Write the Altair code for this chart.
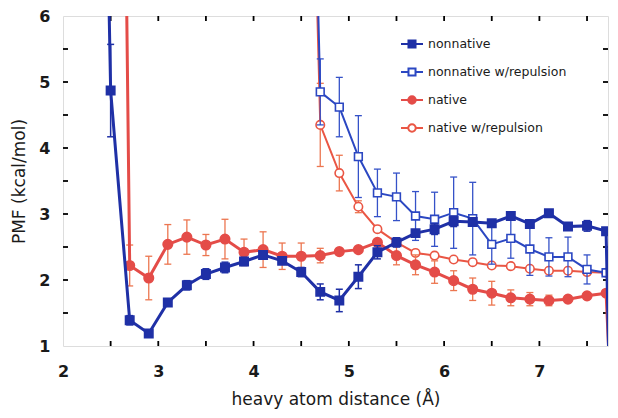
import altair as alt
import pandas as pd

# ---------------- data ----------------
series_names = ["nonnative", "nonnative w/repulsion", "native", "native w/repulsion"]

nn_x = [2.3, 2.5, 2.7, 2.9, 3.1, 3.3, 3.5, 3.7, 3.9, 4.1, 4.3, 4.5, 4.7, 4.9, 5.1,
        5.3, 5.5, 5.7, 5.9, 6.1, 6.3, 6.5, 6.7, 6.9, 7.1, 7.3, 7.5, 7.7, 7.9]
nn_y = [20.0, 4.87, 1.39, 1.19, 1.66, 1.92, 2.09, 2.19, 2.28, 2.38, 2.29, 2.12, 1.82, 1.69, 2.05,
        2.42, 2.57, 2.71, 2.77, 2.89, 2.88, 2.86, 2.97, 2.85, 3.01, 2.81, 2.82, 2.74, -11.0]
nn_err = [None, 0.70, 0.07, 0.04, 0.04, 0.07, 0.08, 0.08, 0.06, 0.05, 0.05, 0.07, 0.12, 0.17, 0.18,
          0.10, 0.07, 0.05, 0.08, 0.08, 0.06, 0.05, 0.04, 0.04, 0.04, 0.04, 0.08, 0.05, None]

nr_x = [4.5, 4.7, 4.9, 5.1, 5.3, 5.5, 5.7, 5.9, 6.1, 6.3, 6.5, 6.7, 6.9, 7.1, 7.3, 7.5, 7.7]
nr_y = [16.4, 4.85, 4.62, 3.87, 3.32, 3.26, 2.97, 2.92, 3.02, 2.93, 2.54, 2.63, 2.47, 2.35, 2.35, 2.16, 2.11]
nr_err = [None, 0.50, 0.45, 0.62, 0.36, 0.36, 0.37, 0.41, 0.54, 0.55, 0.30, 0.30, 0.40, 0.29, 0.30, 0.22, 0.03]

na_x = [2.5, 2.7, 2.9, 3.1, 3.3, 3.5, 3.7, 3.9, 4.1, 4.3, 4.5, 4.7, 4.9, 5.1,
        5.3, 5.5, 5.7, 5.9, 6.1, 6.3, 6.5, 6.7, 6.9, 7.1, 7.3, 7.5, 7.7, 7.9]
na_y = [27.0, 2.22, 2.03, 2.54, 2.65, 2.53, 2.62, 2.42, 2.46, 2.36, 2.36, 2.37, 2.43, 2.46,
        2.57, 2.37, 2.23, 2.12, 1.99, 1.86, 1.80, 1.73, 1.71, 1.69, 1.71, 1.76, 1.80, -4.5]
na_err = [None, 0.31, 0.33, 0.30, 0.26, 0.16, 0.30, 0.20, 0.27, 0.20, 0.20, 0.11, 0.05, 0.05,
          0.05, 0.14, 0.15, 0.17, 0.15, 0.17, 0.18, 0.12, 0.10, 0.08, 0.05, 0.04, 0.04, None]

nar_x = [4.5, 4.7, 4.9, 5.1, 5.3, 5.5, 5.7, 5.9, 6.1, 6.3, 6.5, 6.7, 6.9, 7.1, 7.3, 7.5, 7.7]
nar_y = [15.35, 4.35, 3.62, 3.11, 2.77, 2.57, 2.41, 2.37, 2.31, 2.27, 2.22, 2.21, 2.17, 2.14, 2.14, 2.12, 2.11]
nar_err = [None, 0.63, 0.27, 0.09, 0.04, 0.03, 0.03, 0.03, 0.02, 0.02, 0.02, 0.02, 0.02, 0.02, 0.02, 0.02, 0.02]

x_labels = [2, 3, 4, 5, 6, 7]
y_labels = [1, 2, 3, 4, 5, 6]
x_ticks = [2.5, 3, 3.5, 4, 4.5, 5, 5.5, 6, 6.5, 7, 7.5]
y_ticks = [1.5, 2, 2.5, 3, 3.5, 4, 4.5, 5, 5.5]

# ---------------- styling ----------------
FONT = "DejaVu Sans"
BLUE = "#1f30a6"
BLUE2 = "#2b47c2"
BLUE_ERR = "#3552c8"
RED = "#e44c48"
RED2 = "#ea5644"
RED_ERR = "#ec7650"
X_MIN, X_MAX, Y_MIN, Y_MAX = 2, 7.72, 1, 6
W, H = 545, 330
TICK_PX = 5

XS = alt.Scale(domain=[X_MIN, X_MAX], nice=False, zero=False)
YS = alt.Scale(domain=[Y_MIN, Y_MAX], nice=False, zero=False)
XA = alt.Axis(values=x_labels, title="heavy atom distance (Å)", grid=False, ticks=False, tickSize=0,
              domain=False, labelFlush=False, labelFont=FONT, labelFontSize=16, labelFontWeight="bold",
              labelColor="#1a1a1a", labelPadding=17, titleFont=FONT, titleFontSize=17,
              titleFontWeight="normal", titleColor="#1a1a1a", titlePadding=12)
YA = alt.Axis(values=y_labels, title="PMF (kcal/mol)", grid=False, ticks=False, tickSize=0,
              domain=False, labelFlush=False, labelFont=FONT, labelFontSize=16, labelFontWeight="bold",
              labelColor="#1a1a1a", labelPadding=13, titleFont=FONT, titleFontSize=17,
              titleFontWeight="normal", titleColor="#1a1a1a", titlePadding=10)
X = alt.X("x:Q", scale=XS, axis=XA)

layers = []

# inward frame ticks: short rules from the frame inwards (length = TICK_PX pixels)
dy = TICK_PX * (Y_MAX - Y_MIN) / H
dx = TICK_PX * (X_MAX - X_MIN) / W
vt = pd.concat([
    pd.DataFrame({"x": x_ticks, "lo": Y_MIN, "hi": Y_MIN + dy}),
    pd.DataFrame({"x": x_ticks, "lo": Y_MAX - dy, "hi": Y_MAX}),
], ignore_index=True)
ht = pd.concat([
    pd.DataFrame({"y": y_ticks, "a": X_MIN, "b": X_MIN + dx}),
    pd.DataFrame({"y": y_ticks, "a": X_MAX - dx, "b": X_MAX}),
], ignore_index=True)
layers.append(alt.Chart(vt).mark_rule(color="#000000", strokeWidth=1.8, clip=True).encode(
    x=X, y=alt.Y("lo:Q", scale=YS, axis=YA), y2="hi:Q"))
layers.append(alt.Chart(ht).mark_rule(color="#000000", strokeWidth=1.8, clip=True).encode(
    x=alt.X("a:Q", scale=XS, axis=XA), x2="b:Q", y=alt.Y("y:Q", scale=YS, axis=YA)))


def series_layers(xs, ys, errs, color, ecolor, shape, filled, lw, msize, ew):
    df = pd.DataFrame({"x": xs, "y": ys})
    edf = pd.DataFrame({"x": xs, "y": ys, "e": errs}).dropna()
    edf["lo"] = edf["y"] - edf["e"]
    edf["hi"] = edf["y"] + edf["e"]
    line = alt.Chart(df).mark_line(color=color, strokeWidth=lw, clip=True).encode(
        x=X, y=alt.Y("y:Q", scale=YS, axis=YA))
    bars = alt.Chart(edf).mark_rule(color=ecolor, strokeWidth=ew, clip=True).encode(
        x=X, y=alt.Y("lo:Q", scale=YS, axis=YA), y2="hi:Q")
    cap_lo = alt.Chart(edf).mark_rule(color=ecolor, strokeWidth=ew, clip=True,
                                      xOffset=-3.5, x2Offset=3.5).encode(
        x=X, x2="x:Q", y=alt.Y("lo:Q", scale=YS, axis=YA))
    cap_hi = alt.Chart(edf).mark_rule(color=ecolor, strokeWidth=ew, clip=True,
                                      xOffset=-3.5, x2Offset=3.5).encode(
        x=X, x2="x:Q", y=alt.Y("hi:Q", scale=YS, axis=YA))
    pts = alt.Chart(df).mark_point(shape=shape, filled=False, fill=color if filled else "white",
                                   stroke=color, strokeWidth=1.6, size=msize, opacity=1,
                                   clip=True).encode(
        x=X, y=alt.Y("y:Q", scale=YS, axis=YA))
    return [bars, cap_lo, cap_hi, line, pts]


layers += series_layers(nar_x, nar_y, nar_err, RED2, RED_ERR, "circle", False, 2.0, 72, 1.3)
layers += series_layers(na_x, na_y, na_err, RED, RED_ERR, "circle", True, 3.0, 90, 1.3)
layers += series_layers(nr_x, nr_y, nr_err, BLUE2, BLUE_ERR, "square", False, 2.0, 60, 1.3)
layers += series_layers(nn_x, nn_y, nn_err, BLUE, BLUE, "square", True, 3.0, 70, 1.5)

# legend carrier (its own marks fall outside the frame and are clipped)
SQ = "M-1,0H-0.32M0.32,0H1M-0.32,-0.32H0.32V0.32H-0.32Z"
CI = "M-1,0H-0.34M0.34,0H1M-0.34,0A0.34,0.34,0,1,1,0.34,0A0.34,0.34,0,1,1,-0.34,0Z"
leg = alt.Legend(orient="none", legendX=337, legendY=16, title=None, symbolSize=484,
                 symbolStrokeWidth=2, labelFont=FONT, labelFontSize=12.5, labelColor="#1a1a1a",
                 rowPadding=8, padding=0, labelOffset=4, symbolOpacity=1)
ldf = pd.DataFrame({"series": series_names})
legend_layer = alt.Chart(ldf).mark_point(filled=False, strokeWidth=2, clip=True).encode(
    x=alt.XDatum(0, scale=XS, axis=XA),
    y=alt.YDatum(0, scale=YS, axis=YA),
    color=alt.Color("series:N", legend=leg,
                    scale=alt.Scale(domain=series_names, range=[BLUE, BLUE2, RED, RED2])),
    fill=alt.Fill("series:N", legend=leg,
                  scale=alt.Scale(domain=series_names, range=[BLUE, "white", RED, "white"])),
    shape=alt.Shape("series:N", legend=leg,
                    scale=alt.Scale(domain=series_names, range=[SQ, SQ, CI, CI])),
)
layers.append(legend_layer)

chart = alt.layer(*layers).properties(
    width=W, height=H,
    autosize=alt.AutoSizeParams(type="none"),
    padding={"left": 55, "top": 8, "right": 2, "bottom": 64},
).configure_view(stroke="black", strokeWidth=2).configure(background="white")

chart.save("out.html", embed_options={"renderer": "svg", "actions": False})
